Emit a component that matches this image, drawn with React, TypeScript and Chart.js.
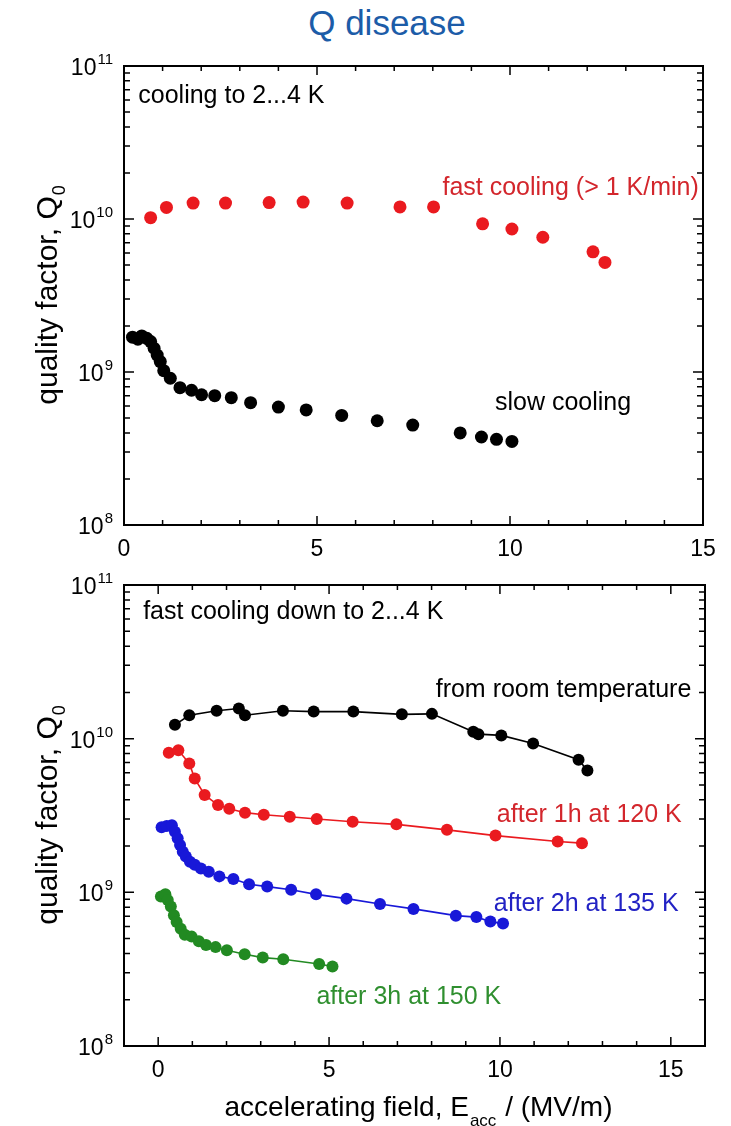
import React, { useEffect, useRef } from 'react';
import { Chart, registerables } from 'chart.js';

Chart.register(...registerables);

const FONT = '"Liberation Sans", Arial, Helvetica, sans-serif';

// ---------------- top panel: cooling to 2...4 K ----------------
const fastE = [0.69, 1.10, 1.79, 2.63, 3.76, 4.64, 5.78, 7.15, 8.02, 9.29, 10.05, 10.85, 12.15, 12.46];
const fastQ = [1.02e10, 1.19e10, 1.27e10, 1.27e10, 1.28e10, 1.29e10, 1.27e10, 1.2e10, 1.2e10, 9.3e9, 8.6e9, 7.6e9, 6.1e9, 5.2e9];

const slowE = [0.22, 0.36, 0.46, 0.59, 0.69, 0.78, 0.86, 0.94, 1.03, 1.2, 1.45, 1.75, 2.01, 2.35, 2.78, 3.28, 4.0, 4.72, 5.64, 6.56, 7.48, 8.71, 9.26, 9.65, 10.05];
const slowQ = [1.69e9, 1.64e9, 1.72e9, 1.66e9, 1.58e9, 1.43e9, 1.29e9, 1.17e9, 1.02e9, 9.1e8, 7.9e8, 7.6e8, 7.1e8, 7.0e8, 6.8e8, 6.3e8, 5.9e8, 5.65e8, 5.2e8, 4.8e8, 4.5e8, 4.0e8, 3.76e8, 3.63e8, 3.52e8];

// ---------------- bottom panel: fast cooling after holding ----------------
const roomE = [0.49, 0.91, 1.71, 2.36, 2.54, 3.65, 4.55, 5.71, 7.13, 8.01, 9.22, 9.37, 10.04, 10.97, 12.3, 12.56];
const roomQ = [1.23e10, 1.42e10, 1.52e10, 1.57e10, 1.42e10, 1.52e10, 1.5e10, 1.5e10, 1.44e10, 1.45e10, 1.11e10, 1.07e10, 1.05e10, 9.3e9, 7.3e9, 6.2e9];

const h120E = [0.31, 0.59, 0.91, 1.07, 1.36, 1.75, 2.08, 2.54, 3.09, 3.85, 4.64, 5.69, 6.97, 8.45, 9.87, 11.69, 12.4];
const h120Q = [8.1e9, 8.4e9, 6.9e9, 5.5e9, 4.3e9, 3.7e9, 3.5e9, 3.3e9, 3.2e9, 3.1e9, 3.0e9, 2.88e9, 2.77e9, 2.55e9, 2.34e9, 2.14e9, 2.09e9];

const h135E = [0.1, 0.25, 0.4, 0.49, 0.57, 0.64, 0.72, 0.81, 0.93, 1.07, 1.25, 1.48, 1.79, 2.2, 2.66, 3.19, 3.89, 4.62, 5.51, 6.49, 7.47, 8.71, 9.31, 9.72, 10.09];
const h135Q = [2.65e9, 2.7e9, 2.73e9, 2.48e9, 2.25e9, 2.03e9, 1.84e9, 1.71e9, 1.58e9, 1.51e9, 1.43e9, 1.36e9, 1.27e9, 1.22e9, 1.13e9, 1.09e9, 1.04e9, 9.7e8, 9.1e8, 8.4e8, 7.8e8, 7.05e8, 6.9e8, 6.45e8, 6.26e8];

const h150E = [0.08, 0.21, 0.28, 0.37, 0.46, 0.54, 0.66, 0.78, 0.98, 1.19, 1.4, 1.68, 2.01, 2.53, 3.06, 3.66, 4.71, 5.1];
const h150Q = [9.4e8, 9.7e8, 8.9e8, 8.1e8, 7.1e8, 6.4e8, 5.8e8, 5.3e8, 5.15e8, 4.8e8, 4.55e8, 4.4e8, 4.2e8, 3.95e8, 3.76e8, 3.67e8, 3.42e8, 3.29e8];

// ---------------- ticks ----------------
const Y_DECADES = [1e8, 1e9, 1e10, 1e11];
const Y_TICK_BASE = '10';
const Y_TICK_EXPONENTS = ['8', '9', '10', '11'];
const Y_MANTISSAS = [1, 2, 3, 4, 5, 6, 7, 8, 9];
const X_LABEL_VALUES = [0, 5, 10, 15];
const X_TICK_LABELS = ['0', '5', '10', '15'];

const Y_TICK_VALUES: number[] = [];
Y_DECADES.forEach((d, i) => {
  if (i === Y_DECADES.length - 1) Y_TICK_VALUES.push(d);
  else Y_MANTISSAS.forEach((m) => Y_TICK_VALUES.push(m * d));
});

const RED = '#ea1a1f';
const RED_TXT = '#d3262c';
const BLUE = '#1818d8';
const BLUE_TXT = '#2222c4';
const GREEN = '#228a22';
const GREEN_TXT = '#2f8f2f';

type Note = { text: string; x: number; y: number; color: string };

const topNotes: Note[] = [
  { text: 'cooling to 2...4 K', x: 0.37, y: 6.4e10, color: '#000' },
  { text: 'fast cooling (> 1 K/min)', x: 8.25, y: 1.58e10, color: RED_TXT },
  { text: 'slow cooling', x: 9.61, y: 6.24e8, color: '#000' },
];

const bottomNotes: Note[] = [
  { text: 'fast cooling down to 2...4 K', x: -0.44, y: 6.67e10, color: '#000' },
  { text: 'from room temperature', x: 8.12, y: 2.07e10, color: '#000' },
  { text: 'after 1h at 120 K', x: 9.91, y: 3.16e9, color: RED_TXT },
  { text: 'after 2h at 135 K', x: 9.82, y: 8.41e8, color: BLUE_TXT },
  { text: 'after 3h at 150 K', x: 4.63, y: 2.08e8, color: GREEN_TXT },
];

const NOTE_SIZE = 25;
const TICK_SIZE = 23;
const EXP_SIZE = 15;
const Y_TITLE_SIZE = 30;
const X_TITLE_SIZE = 28;

function pts(xs: number[], ys: number[]) {
  return xs.map((x, i) => ({ x, y: ys[i] }));
}

function isDecade(v: number) {
  const l = Math.log10(v);
  return Math.abs(l - Math.round(l)) < 1e-6;
}

function decorPlugin(notes: Note[], withXTitle: boolean) {
  return {
    id: 'panelDecor',
    afterDatasetsDraw(chart: any) {
      const { ctx, chartArea: a, scales } = chart;
      const xs = scales.x;
      const ys = scales.y;
      ctx.save();
      // frame
      ctx.strokeStyle = '#000';
      ctx.lineWidth = 2;
      ctx.strokeRect(a.left, a.top, a.right - a.left, a.bottom - a.top);
      // inward tick marks
      ctx.lineWidth = 1.5;
      ctx.beginPath();
      xs.ticks.forEach((t: any) => {
        const px = xs.getPixelForValue(t.value);
        if (px <= a.left + 1 || px >= a.right - 1) return;
        const len = X_LABEL_VALUES.includes(t.value) ? 9 : 5;
        ctx.moveTo(px, a.bottom);
        ctx.lineTo(px, a.bottom - len);
        ctx.moveTo(px, a.top);
        ctx.lineTo(px, a.top + len);
      });
      ys.ticks.forEach((t: any) => {
        const py = ys.getPixelForValue(t.value);
        if (py <= a.top + 1 || py >= a.bottom - 1) return;
        const len = isDecade(t.value) ? 10 : 6;
        ctx.moveTo(a.left, py);
        ctx.lineTo(a.left + len, py);
        ctx.moveTo(a.right, py);
        ctx.lineTo(a.right - len, py);
      });
      ctx.stroke();

      // y tick labels 10^n, placed with the y scale
      ctx.fillStyle = '#000';
      Y_DECADES.forEach((d, i) => {
        const py = ys.getPixelForValue(d);
        const exp = Y_TICK_EXPONENTS[i];
        ctx.font = `${EXP_SIZE}px ${FONT}`;
        const we = ctx.measureText(exp).width;
        const right = a.left - 11;
        ctx.textAlign = 'left';
        ctx.textBaseline = 'alphabetic';
        ctx.fillText(exp, right - we, py - 2);
        ctx.font = `${TICK_SIZE}px ${FONT}`;
        ctx.textAlign = 'right';
        ctx.fillText(Y_TICK_BASE, right - we - 1, py + 9);
      });

      // annotations
      ctx.textAlign = 'left';
      ctx.textBaseline = 'middle';
      ctx.font = `${NOTE_SIZE}px ${FONT}`;
      notes.forEach((n) => {
        ctx.fillStyle = n.color;
        ctx.fillText(n.text, xs.getPixelForValue(n.x), ys.getPixelForValue(n.y));
      });

      // y axis title: quality factor, Q_0
      ctx.fillStyle = '#000';
      const main = 'quality factor, Q';
      const sub = '0';
      const subSize = Math.round(Y_TITLE_SIZE * 0.6);
      ctx.font = `${Y_TITLE_SIZE}px ${FONT}`;
      const w1 = ctx.measureText(main).width;
      ctx.font = `${subSize}px ${FONT}`;
      const w2 = ctx.measureText(sub).width;
      ctx.translate(47, (a.top + a.bottom) / 2);
      ctx.rotate(-Math.PI / 2);
      ctx.textAlign = 'left';
      ctx.textBaseline = 'alphabetic';
      const start = -(w1 + w2) / 2;
      ctx.font = `${Y_TITLE_SIZE}px ${FONT}`;
      ctx.fillText(main, start, 10);
      ctx.font = `${subSize}px ${FONT}`;
      ctx.fillText(sub, start + w1 + 1, 18);
      ctx.setTransform(1, 0, 0, 1, 0, 0);

      if (withXTitle) {
        const p1 = 'accelerating field, E';
        const p2 = 'acc';
        const p3 = ' / (MV/m)';
        const s2 = Math.round(X_TITLE_SIZE * 0.6);
        ctx.font = `${X_TITLE_SIZE}px ${FONT}`;
        const a1 = ctx.measureText(p1).width;
        const a3 = ctx.measureText(p3).width;
        ctx.font = `${s2}px ${FONT}`;
        const a2 = ctx.measureText(p2).width;
        const cx = (a.left + a.right) / 2 + 4;
        const base = a.bottom + 70;
        const x0 = cx - (a1 + a2 + a3 + 2) / 2;
        ctx.textAlign = 'left';
        ctx.textBaseline = 'alphabetic';
        ctx.font = `${X_TITLE_SIZE}px ${FONT}`;
        ctx.fillText(p1, x0, base);
        ctx.font = `${s2}px ${FONT}`;
        ctx.fillText(p2, x0 + a1 + 1, base + 10);
        ctx.font = `${X_TITLE_SIZE}px ${FONT}`;
        ctx.fillText(p3, x0 + a1 + a2 + 2, base);
      }
      ctx.restore();
    },
  };
}

function buildOptions(xMin: number, xMax: number, padTop: number, padRight: number, xAxisHeight: number) {
  return {
    animation: false,
    responsive: false,
    devicePixelRatio: 1,
    layout: { padding: { left: 0, top: padTop, right: padRight, bottom: 0 } },
    plugins: {
      legend: { display: false },
      tooltip: { enabled: false },
      title: { display: false },
    },
    scales: {
      x: {
        type: 'linear',
        min: xMin,
        max: xMax,
        grid: { display: false, drawTicks: false },
        border: { display: false },
        ticks: {
          stepSize: 1,
          autoSkip: false,
          maxRotation: 0,
          padding: 11,
          color: '#000',
          font: { family: FONT, size: TICK_SIZE },
          callback: (v: any) => {
            const i = X_LABEL_VALUES.indexOf(Number(v));
            return i >= 0 ? X_TICK_LABELS[i] : '';
          },
        },
        afterFit: (s: any) => {
          s.height = xAxisHeight;
        },
      },
      y: {
        type: 'logarithmic',
        min: 1e8,
        max: 1e11,
        grid: { display: false, drawTicks: false },
        border: { display: false },
        afterBuildTicks: (s: any) => {
          s.ticks = Y_TICK_VALUES.map((v) => ({ value: v }));
        },
        ticks: { display: false },
        afterFit: (s: any) => {
          s.width = 124;
        },
      },
    },
  } as any;
}

function dot(label: string, data: any[], color: string, radius: number, line: boolean) {
  return {
    label,
    data,
    showLine: line,
    borderColor: color,
    backgroundColor: color,
    borderWidth: 1.6,
    pointRadius: radius,
    pointBorderWidth: 0,
    pointBackgroundColor: color,
    pointBorderColor: color,
  };
}

export default function App() {
  const topRef = useRef<HTMLCanvasElement>(null);
  const botRef = useRef<HTMLCanvasElement>(null);

  useEffect(() => {
    const top = new Chart(topRef.current as HTMLCanvasElement, {
      type: 'scatter',
      data: {
        datasets: [
          dot('fast cooling (> 1 K/min)', pts(fastE, fastQ), RED, 6.5, false),
          dot('slow cooling', pts(slowE, slowQ), '#000', 6.5, false),
        ],
      },
      options: buildOptions(0, 15, 66, 28, 35),
      plugins: [decorPlugin(topNotes, false)],
    } as any);

    const bottom = new Chart(botRef.current as HTMLCanvasElement, {
      type: 'scatter',
      data: {
        datasets: [
          dot('from room temperature', pts(roomE, roomQ), '#000', 6, true),
          dot('after 1h at 120 K', pts(h120E, h120Q), RED, 6, true),
          dot('after 2h at 135 K', pts(h135E, h135Q), BLUE, 6, true),
          dot('after 3h at 150 K', pts(h150E, h150Q), GREEN, 6, true),
        ],
      },
      options: buildOptions(-1, 16, 25, 26, 80),
      plugins: [decorPlugin(bottomNotes, true)],
    } as any);

    return () => {
      top.destroy();
      bottom.destroy();
    };
  }, []);

  return (
    <div style={{ position: 'absolute', left: 0, top: 0, width: 731, height: 1126, background: '#fff', overflow: 'hidden' }}>
      <div
        style={{
          position: 'absolute',
          left: 0,
          top: 5,
          width: 774,
          textAlign: 'center',
          fontFamily: FONT,
          fontSize: 35,
          lineHeight: '35px',
          color: '#1c5ca8',
        }}
      >
        Q disease
      </div>
      <canvas ref={topRef} width={731} height={560} style={{ position: 'absolute', left: 0, top: 0, display: 'block' }} />
      <canvas ref={botRef} width={731} height={566} style={{ position: 'absolute', left: 0, top: 560, display: 'block' }} />
    </div>
  );
}
